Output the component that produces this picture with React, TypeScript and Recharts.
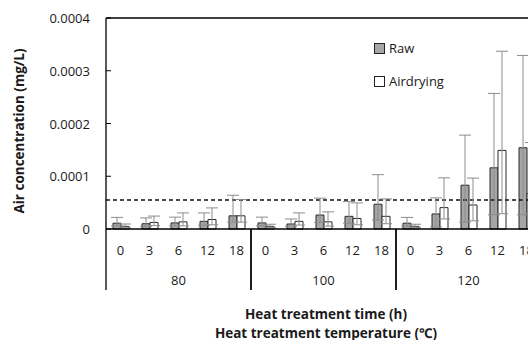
import React from "react";
import { BarChart, Bar, XAxis, YAxis, ReferenceLine, ErrorBar } from "recharts";

// ---- data (concentrations in units of 1e-5 mg/L) ----
const temperatures = ["80", "100", "120"];
const times = ["0", "3", "6", "12", "18"];
const seriesNames = ["Raw", "Airdrying"];
const unit = 1e-5;

const rawMean = [1.1, 1.0, 1.15, 1.45, 2.5, 1.15, 0.95, 2.65, 2.4, 4.7, 1.1, 2.85, 8.3, 11.6, 15.4];
const rawErrUp = [1.1, 1.1, 1.1, 1.6, 3.9, 1.1, 0.95, 3.2, 2.8, 5.6, 1.1, 3.05, 9.5, 14.1, 17.5];
const rawErrLow = [0.55, 0.5, 0.55, 0.75, 1.2, 0.55, 0.45, 1.4, 1.3, 3.0, 0.55, 2.45, 7.0, 8.9, 12.7];

const airMean = [0.5, 1.25, 1.35, 1.8, 2.5, 0.5, 1.45, 1.35, 2.0, 2.4, 0.5, 4.05, 4.55, 14.9, 6.7];
const airErrUp = [0.45, 1.2, 1.7, 2.2, 3.1, 0.4, 1.6, 1.9, 2.95, 3.3, 0.4, 5.65, 5.1, 18.8, 9.7];
const airErrLow = [0.25, 0.6, 0.75, 1.0, 1.2, 0.2, 0.7, 0.8, 1.2, 1.4, 0.2, 2.15, 3.0, 12.0, 3.7];

const yTicks = [0, 0.0001, 0.0002, 0.0003, 0.0004];
const threshold = 0.000055;

const data = temperatures.flatMap((t, gi) =>
  times.map((h, ti) => {
    const i = gi * times.length + ti;
    return {
      key: `${t}-${h}`,
      time: h,
      temp: t,
      raw: rawMean[i] * unit,
      rawErr: [rawErrLow[i] * unit, rawErrUp[i] * unit],
      air: airMean[i] * unit,
      airErr: [airErrLow[i] * unit, airErrUp[i] * unit],
    };
  })
);

const FONT = "'Open Sans', 'Noto Sans', sans-serif";
const TXT = "#1a1a1a";
const BAND = 29;

const XTick = (props: any) => {
  const { x, y, index } = props;
  const d = data[index];
  const pos = index % times.length;
  return (
    <g>
      <text x={x} y={y + 21} textAnchor="middle" dominantBaseline="central" fontFamily={FONT} fontSize={13} fill={TXT}>
        {d.time}
      </text>
      {pos === 2 && (
        <text x={x} y={y + 51} textAnchor="middle" dominantBaseline="central" fontFamily={FONT} fontSize={13} fill={TXT}>
          {d.temp}
        </text>
      )}
      {pos === 0 && <line x1={x - BAND / 2} x2={x - BAND / 2} y1={y} y2={y + 61} stroke="#000" strokeWidth={1.3} />}
      {pos === times.length - 1 && (
        <line x1={x + BAND / 2} x2={x + BAND / 2} y1={y} y2={y + 61} stroke="#000" strokeWidth={1.3} />
      )}
    </g>
  );
};

const YTick = (props: any) => {
  const { x, y, payload } = props;
  const v = payload.value;
  const label = v === 0 ? "0" : v.toFixed(4);
  return (
    <g>
      <text x={x} y={y} textAnchor="end" dominantBaseline="central" fontFamily={FONT} fontSize={13} fill={TXT}>
        {label}
      </text>
      <line x1={x + 16} x2={x + 21} y1={y} y2={y} stroke="#000" strokeWidth={1} />
    </g>
  );
};

const titleStyle: React.CSSProperties = {
  position: "absolute",
  whiteSpace: "nowrap",
  fontFamily: FONT,
  fontWeight: 700,
  fontSize: 13.5,
  lineHeight: "14px",
  color: TXT,
};

export default function App() {
  return (
    <div style={{ position: "fixed", left: 0, top: 0, width: 528, height: 340, overflow: "hidden", background: "#fff" }}>
      <BarChart
        width={545}
        height={340}
        data={data}
        margin={{ top: 18, right: 4, bottom: 0, left: 0 }}
        barGap={0}
      >
        <XAxis
          dataKey="key"
          interval={0}
          tickLine={false}
          tickSize={0}
          tickMargin={0}
          height={111}
          axisLine={{ stroke: "#000", strokeWidth: 1.3 }}
          tick={<XTick />}
        />
        <YAxis
          domain={[0, 0.0004]}
          ticks={yTicks}
          width={106}
          tickLine={false}
          tickSize={0}
          tickMargin={16}
          axisLine={{ stroke: "#000", strokeWidth: 1.3 }}
          tick={<YTick />}
        />
        <ReferenceLine y={0.0004} stroke="#000" strokeWidth={1.3} />
        <ReferenceLine y={threshold} stroke="#111" strokeWidth={1.3} strokeDasharray="4 3" />
        <Bar dataKey="raw" name="Raw" barSize={8} fill="#a6a6a6" stroke="#2b2b2b" strokeWidth={1} isAnimationActive={false}>
          <ErrorBar dataKey="rawErr" stroke="#8c8c8c" strokeWidth={1} width={6} />
        </Bar>
        <Bar dataKey="air" name="Airdrying" barSize={8} fill="#ffffff" stroke="#2b2b2b" strokeWidth={1} isAnimationActive={false}>
          <ErrorBar dataKey="airErr" stroke="#8c8c8c" strokeWidth={1} width={6} />
        </Bar>
      </BarChart>
      <div style={{ position: "absolute", left: 374, top: 38, fontFamily: FONT, fontSize: 13, color: TXT }}>
        {seriesNames.map((n, i) => (
          <div key={n} style={{ display: "flex", alignItems: "center", height: 20, marginBottom: i === 0 ? 13 : 0 }}>
            <span
              style={{
                display: "inline-block",
                width: 9,
                height: 9,
                border: "1px solid #222",
                background: i === 0 ? "#a6a6a6" : "#fff",
                marginRight: 4,
              }}
            />
            <span>{n}</span>
          </div>
        ))}
      </div>
      <div style={{ ...titleStyle, left: 19, top: 131, transform: "translate(-50%, -50%) rotate(-90deg)" }}>
        Air concentration (mg/L)
      </div>
      <div style={{ ...titleStyle, left: 326, top: 314, transform: "translate(-50%, -50%)" }}>
        Heat treatment time (h)
      </div>
      <div style={{ ...titleStyle, left: 326, top: 333, transform: "translate(-50%, -50%)" }}>
        Heat treatment temperature (℃)
      </div>
    </div>
  );
}
